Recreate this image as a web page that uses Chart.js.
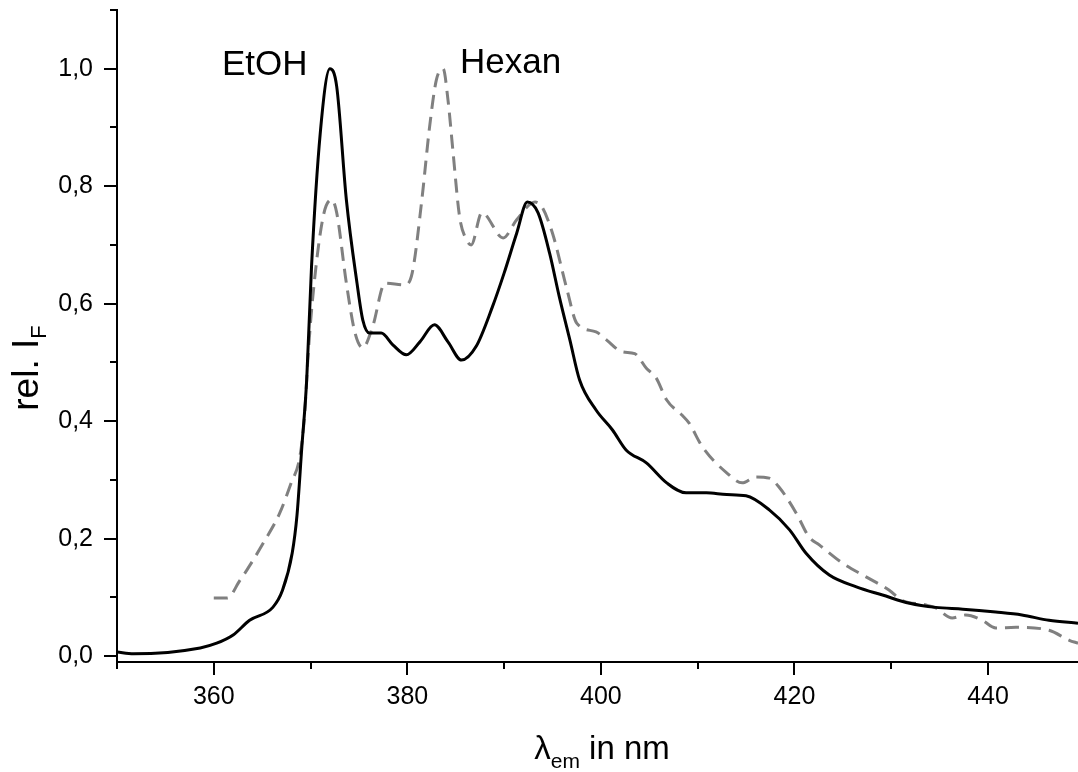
<!DOCTYPE html>
<html>
<head>
<meta charset="utf-8">
<style>
  body { margin: 0; background: #fff; }
  #box { width: 1078px; height: 772px; }
</style>
</head>
<body>
<div id="box"><canvas id="myChart"></canvas></div>

<script src="https://cdn.jsdelivr.net/npm/chart.js/dist/chart.umd.min.js"></script>
<script>
// data (wavelength in nm, relative intensity)
const etohX = [350.0, 351.7, 358.6, 360.3, 362.0, 363.7, 366.1, 367.1, 368.1, 368.6, 369.1, 369.6, 370.1, 371.0, 372.0, 372.7, 373.7, 374.8, 375.4, 376.1, 377.3, 378.5, 379.9, 381.3, 382.8, 384.2, 385.6, 387.1, 388.8, 390.0, 391.3, 392.4, 393.5, 394.7, 395.7, 396.8, 397.8, 399.5, 401.2, 402.6, 404.7, 406.8, 408.8, 410.9, 413.0, 415.0, 417.4, 419.5, 421.2, 423.6, 426.4, 429.1, 431.9, 434.6, 437.4, 440.8, 443.5, 446.3, 449.3];
const etohY = [0.007, 0.004, 0.014, 0.022, 0.036, 0.061, 0.083, 0.112, 0.175, 0.240, 0.356, 0.470, 0.663, 0.890, 1.000, 0.970, 0.777, 0.635, 0.572, 0.550, 0.550, 0.530, 0.513, 0.535, 0.564, 0.535, 0.504, 0.527, 0.595, 0.652, 0.720, 0.773, 0.755, 0.686, 0.612, 0.538, 0.470, 0.419, 0.385, 0.351, 0.329, 0.295, 0.278, 0.278, 0.275, 0.273, 0.249, 0.215, 0.175, 0.138, 0.118, 0.104, 0.090, 0.083, 0.080, 0.075, 0.070, 0.061, 0.056];

const hexanX = [360.0, 361.4, 362.7, 363.4, 365.1, 366.8, 368.0, 368.9, 369.4, 369.7, 370.2, 371.3, 372.2, 372.7, 373.7, 374.6, 375.4, 376.4, 377.7, 379.7, 380.5, 381.5, 382.3, 383.0, 383.7, 384.2, 384.7, 385.4, 386.1, 386.6, 387.7, 389.9, 391.3, 393.2, 393.9, 395.0, 396.5, 397.5, 399.5, 400.6, 402.2, 403.5, 404.7, 405.7, 406.8, 408.4, 409.1, 410.5, 413.0, 414.6, 416.0, 417.4, 418.4, 420.2, 421.5, 422.6, 425.0, 427.4, 429.8, 431.1, 433.6, 434.6, 436.3, 437.7, 439.4, 440.8, 442.9, 446.3, 448.4, 449.3];
const hexanY = [0.099, 0.099, 0.129, 0.146, 0.192, 0.243, 0.295, 0.340, 0.414, 0.500, 0.606, 0.748, 0.777, 0.755, 0.635, 0.550, 0.525, 0.560, 0.635, 0.632, 0.652, 0.777, 0.901, 0.981, 1.000, 0.947, 0.862, 0.748, 0.709, 0.700, 0.755, 0.712, 0.743, 0.773, 0.765, 0.720, 0.624, 0.567, 0.552, 0.538, 0.518, 0.515, 0.490, 0.474, 0.436, 0.410, 0.397, 0.356, 0.312, 0.295, 0.305, 0.303, 0.288, 0.243, 0.203, 0.189, 0.158, 0.135, 0.112, 0.095, 0.087, 0.082, 0.065, 0.070, 0.061, 0.048, 0.049, 0.044, 0.027, 0.022];

const xTickValues = [350, 360, 370, 380, 390, 400, 410, 420, 430, 440];
const xTickLabels = ['', '360', '', '380', '', '400', '', '420', '', '440'];
const yTickValues = [0, 0.1, 0.2, 0.3, 0.4, 0.5, 0.6, 0.7, 0.8, 0.9, 1.0, 1.1];
const yTickLabels = ['0,0', '', '0,2', '', '0,4', '', '0,6', '', '0,8', '', '1,0', ''];

const FONT = "'Liberation Sans', Arial, sans-serif";

// tick marks: long for labelled ticks, short for the others
const tickMarks = {
  id: 'tickMarks',
  afterDraw(chart) {
    const ctx = chart.ctx;
    const xs = chart.scales.x, ys = chart.scales.y;
    const area = chart.chartArea;
    ctx.save();
    ctx.strokeStyle = '#000';
    ctx.lineWidth = 2;
    xs.ticks.forEach((t, i) => {
      const px = Math.round(xs.getPixelForValue(t.value));
      const len = xTickLabels[i] ? 13 : 7;
      ctx.beginPath();
      ctx.moveTo(px, area.bottom);
      ctx.lineTo(px, area.bottom + len);
      ctx.stroke();
    });
    ys.ticks.forEach((t, i) => {
      const py = Math.round(ys.getPixelForValue(t.value));
      const len = yTickLabels[i] ? 13 : 7;
      ctx.beginPath();
      ctx.moveTo(area.left, py);
      ctx.lineTo(area.left - len, py);
      ctx.stroke();
    });
    ctx.restore();
  }
};

// axis titles with subscripts and the two curve labels
const titles = {
  id: 'titles',
  afterDraw(chart) {
    const ctx = chart.ctx;
    ctx.save();
    ctx.fillStyle = '#000';
    ctx.textBaseline = 'alphabetic';
    ctx.textAlign = 'left';

    // x title: λem in nm
    const big = '33px ' + FONT, small = '21px ' + FONT;
    ctx.font = big;
    const wL = ctx.measureText('\u03bb').width;
    const wR = ctx.measureText(' in nm').width;
    ctx.font = small;
    const wS = ctx.measureText('em').width;
    let x = 602 - (wL + wS + wR) / 2;
    ctx.font = big;
    ctx.fillText('\u03bb', x, 759);
    x += wL;
    ctx.font = small;
    ctx.fillText('em', x, 768);
    x += wS;
    ctx.font = big;
    ctx.fillText(' in nm', x, 759);

    // y title: rel. IF, rotated
    const bigY = '37px ' + FONT, smallY = '22px ' + FONT;
    ctx.translate(38, 368);
    ctx.rotate(-Math.PI / 2);
    ctx.font = bigY;
    const w1 = ctx.measureText('rel. I').width;
    ctx.font = smallY;
    const w2 = ctx.measureText('F').width;
    const s = -(w1 + w2) / 2;
    ctx.font = bigY;
    ctx.fillText('rel. I', s, 0);
    ctx.font = smallY;
    ctx.fillText('F', s + w1, 8);
    ctx.setTransform(1, 0, 0, 1, 0, 0);

    // curve labels
    ctx.font = '35px ' + FONT;
    ctx.fillText('EtOH', 222, 75);
    ctx.fillText('Hexan', 460, 73);
    ctx.restore();
  }
};

const data = {
  datasets: [
    {
      label: 'EtOH',
      data: etohX.map((x, i) => ({ x: x, y: etohY[i] })),
      borderColor: '#000000',
      borderWidth: 3,
      pointRadius: 0,
      cubicInterpolationMode: 'monotone'
    },
    {
      label: 'Hexan',
      data: hexanX.map((x, i) => ({ x: x, y: hexanY[i] })),
      borderColor: '#808080',
      borderWidth: 3,
      borderDash: [14, 8],
      pointRadius: 0,
      cubicInterpolationMode: 'monotone'
    }
  ]
};

const config = {
  type: 'line',
  data,
  options: {
    responsive: true,
    maintainAspectRatio: false,
    animation: false,
    layout: { padding: { top: 10, right: 0, left: 0, bottom: 0 } },
    plugins: {
      legend: { display: false },
      tooltip: { enabled: false }
    },
    scales: {
      x: {
        type: 'linear',
        min: 350,
        max: 449.3,
        afterBuildTicks: (scale) => { scale.ticks = xTickValues.map(v => ({ value: v })); },
        afterFit: (scale) => {
          scale.height = 110;
          scale.paddingLeft = 0;
          scale.paddingRight = 0;
        },
        grid: { display: false, drawTicks: false },
        border: { display: true, color: '#000', width: 2 },
        ticks: {
          color: '#000',
          padding: 20,
          maxRotation: 0,
          autoSkip: false,
          font: { family: FONT, size: 25 },
          callback: (v, i) => xTickLabels[i]
        }
      },
      y: {
        type: 'linear',
        min: -0.01,
        max: 1.1,
        afterBuildTicks: (scale) => { scale.ticks = yTickValues.map(v => ({ value: v })); },
        afterFit: (scale) => {
          scale.width = 117;
          scale.paddingTop = 0;
          scale.paddingBottom = 0;
        },
        grid: { display: false, drawTicks: false },
        border: { display: true, color: '#000', width: 2 },
        ticks: {
          color: '#000',
          padding: 24,
          autoSkip: false,
          font: { family: FONT, size: 25 },
          callback: (v, i) => yTickLabels[i]
        }
      }
    }
  },
  plugins: [tickMarks, titles]
};

const myChart = new Chart(document.getElementById('myChart'), config);
</script>
</body>
</html>
